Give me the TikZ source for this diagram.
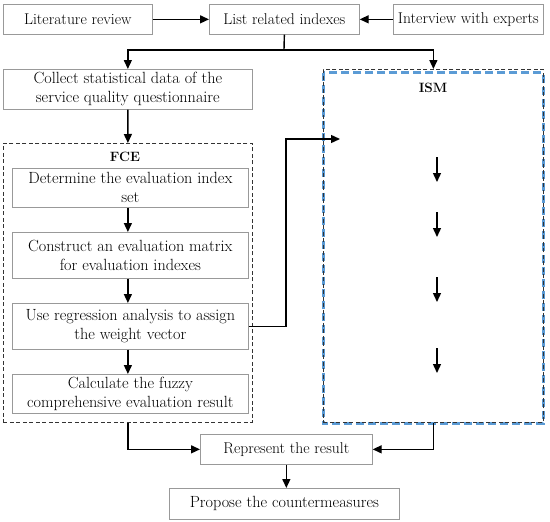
\documentclass[tikz,border=0pt]{standalone}
\usepackage{fontspec}
\usetikzlibrary{arrows.meta}
\definecolor{ismblue}{HTML}{5B9BD5}
\begin{document}
\begin{tikzpicture}[x=1pt,y=-1pt]
\tikzset{
  boxn/.style={draw=gray!80, line width=0.7pt, inner sep=0pt, align=center, anchor=north west, font=\fontsize{15.6}{19}\selectfont},
  boxw/.style={boxn, font=\fontsize{16.2}{19}\selectfont},
  frame/.style={draw=black!80, dash pattern=on 4pt off 2.5pt, line width=0.8pt, inner sep=0pt, anchor=north west},
  lab/.style={font=\fontsize{13.5}{15}\selectfont\bfseries, inner sep=0pt},
  arr/.style={line width=1.4pt, -{Triangle[length=9pt,width=8pt]}},
  ln/.style={line width=1.4pt},
  bluedash/.style={draw=ismblue, line width=3pt, dash pattern=on 8pt off 4pt}
}
\useasboundingbox (0,0) rectangle (550,522);
% top row
\node[boxn, minimum width=149pt, minimum height=30pt] (lit) at (3,4) {Literature review};
\node[boxn, minimum width=150pt, minimum height=30pt] (list) at (209,4) {List related indexes};
\node[boxn, minimum width=150pt, minimum height=30pt] (intv) at (393,4) {Interview with experts};
% collect
\node[boxw, minimum width=249pt, minimum height=40pt] (collect) at (3,69) {Collect statistical data of the\\service quality questionnaire};
% FCE frame
\node[frame, minimum width=249pt, minimum height=279pt] (fce) at (3,143) {};
\node[lab] (fcel) at (125,157) {FCE};
\node[boxw, minimum width=236pt, minimum height=39pt] (b1) at (12,168) {Determine the evaluation index\\set};
\node[boxw, minimum width=236pt, minimum height=46pt] (b2) at (12,232) {Construct an evaluation matrix\\for evaluation indexes};
\node[boxw, minimum width=236pt, minimum height=46pt] (b3) at (12,303) {Use regression analysis to assign\\the weight vector};
\node[boxw, minimum width=236pt, minimum height=39pt] (b4) at (12,374) {Calculate the fuzzy\\comprehensive evaluation result};
% ISM frame
\draw[bluedash] (323,72.5) rectangle (543,423.5);
\node[frame, minimum width=220pt, minimum height=353pt] (ism) at (323,69) {};
\node[lab] (isml) at (433,88) {ISM};
% bottom
\node[boxn, minimum width=172pt, minimum height=30pt] (rep) at (200,434) {Represent the result};
\node[boxw, minimum width=230pt, minimum height=31pt] (prop) at (169,488) {Propose the countermeasures};
% connectors
\draw[arr] (lit) -- (list);
\draw[arr] (intv) -- (list);
\coordinate (split) at (284,50);
\draw[ln] (list.south) -- (split);
\draw[arr] (split) -| (collect.north);
\draw[arr] (split) -| (ism.north);
\draw[arr] (collect.south) -- (fce.north);
\draw[arr] (b1.south -| fce.north) -- (b2.north -| fce.north);
\draw[arr] (b2.south -| fce.north) -- (b3.north -| fce.north);
\draw[arr] (b3.south -| fce.north) -- (b4.north -| fce.north);
\coordinate (jog) at (286,139);
\coordinate (ismin) at (340,139);
\draw[arr] (b3.east) -| (jog) -- (ismin);
\foreach \ys/\ye [count=\i] in {157/182, 212/237, 277/302, 348/373}{
  \coordinate (s\i) at (437,\ys);
  \coordinate (e\i) at (437,\ye);
  \draw[arr] (s\i) -- (e\i);
}
\draw[arr] (fce.south) |- (rep.west);
\draw[arr] (ism.south) |- (rep.east);
\draw[arr] (rep.south) -- (rep.south |- prop.north);
\end{tikzpicture}
\end{document}
